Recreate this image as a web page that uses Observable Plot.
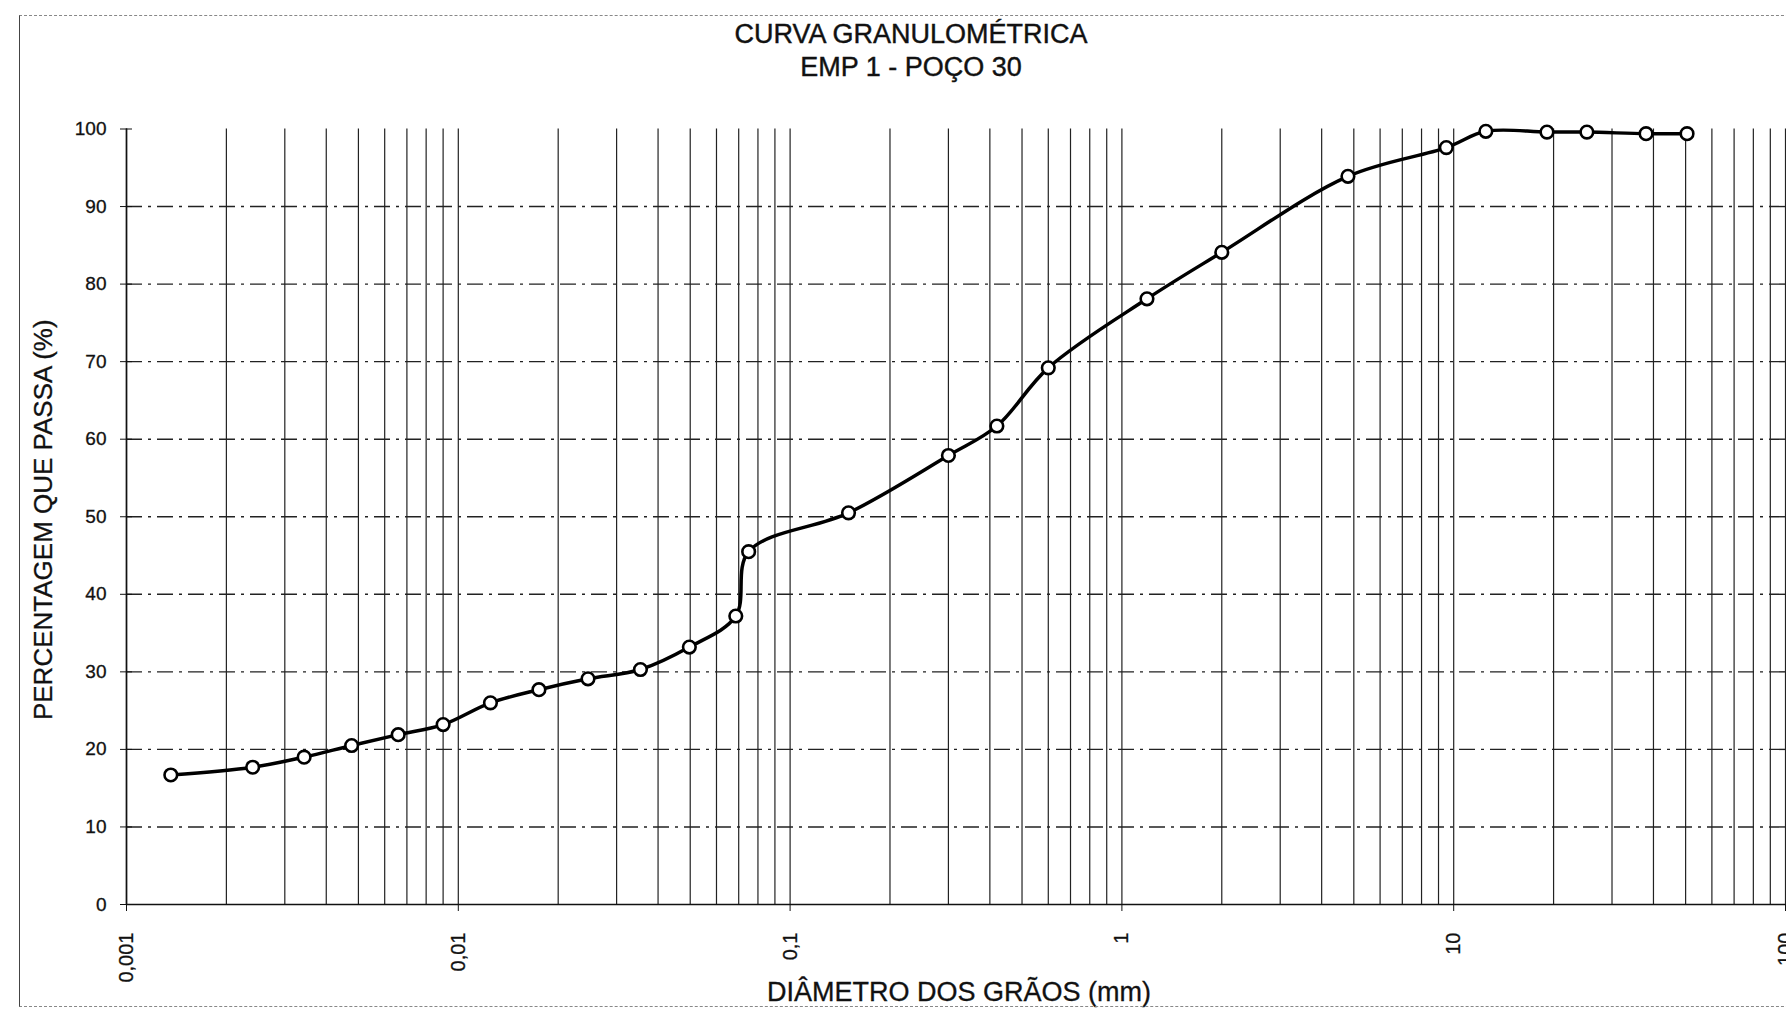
<!DOCTYPE html>
<html>
<head>
<meta charset="utf-8">
<script src="https://cdn.jsdelivr.net/npm/d3@7"></script>
<script src="https://cdn.jsdelivr.net/npm/@observablehq/plot@0.6"></script>
<style>
  body { margin: 0; background: #fff; font-family: "Liberation Sans", Arial, sans-serif; }
  #wrap { position: relative; width: 1786px; height: 1014px; overflow: hidden; background: #fff; }
  #title { height: 92px; box-sizing: border-box; padding-top: 18px; padding-left: 36px; text-align: center;
           font-size: 27px; line-height: 33px; color: #111; -webkit-text-stroke: 0.4px #111; }
  #frame { position: absolute; left: 19px; top: 15px; width: 1800px; height: 992px; box-sizing: border-box;
           border-left: 1px solid #444; border-top: 1px dashed #888; border-bottom: 1px dashed #888; pointer-events: none; }
  #chart svg { display: block; }
  #chart svg text { stroke: #111; stroke-width: 0.3px; }
</style>
</head>
<body>
<div id="wrap">
  <div id="frame"></div>
  <div id="title">
    <div>CURVA GRANULOMÉTRICA</div>
    <div>EMP 1 - POÇO 30</div>
  </div>
  <div id="chart"></div>
</div>
<script>
// Grain diameter (mm) and percentage passing
const diameters = [0.00136, 0.0024, 0.00343, 0.00477, 0.00659, 0.009, 0.0125, 0.0175, 0.0246, 0.0354,
                   0.0497, 0.0686, 0.075, 0.150, 0.30, 0.42, 0.60, 1.19, 2.0, 4.8, 9.5, 12.5, 19.1, 25.2, 38.0, 50.5];
const passing   = [16.7, 17.7, 19.0, 20.5, 21.9, 23.2, 26.0, 27.7, 29.1, 30.3,
                   33.2, 37.2, 45.5, 50.5, 57.9, 61.7, 69.2, 78.1, 84.1, 93.9, 97.6, 99.7, 99.6, 99.6, 99.4, 99.4];

const yTicks = [0, 10, 20, 30, 40, 50, 60, 70, 80, 90, 100];
const yGridValues = [10, 20, 30, 40, 50, 60, 70, 80, 90];
const xDecades = [0.001, 0.01, 0.1, 1, 10, 100];
const xTickLabels = ["0,001", "0,01", "0,1", "1", "10", "100"];
const minorMultipliers = [1, 2, 3, 4, 5, 6, 7, 8, 9];

const xGridValues = xDecades.slice(0, -1)
  .flatMap(d => minorMultipliers.map(k => +(k * d).toPrecision(6)))
  .concat([100]);

const data = diameters.map((d, i) => ({d, p: passing[i]}));

const chart = Plot.plot({
  width: 1786,
  height: 922,
  marginLeft: 126,
  marginRight: 1,
  marginTop: 36.5,
  marginBottom: 110,
  style: {fontFamily: "Liberation Sans, Arial, sans-serif", fontSize: "19px", color: "#111", background: "white", overflow: "visible"},
  x: {type: "log", domain: [0.001, 100]},
  y: {domain: [0, 100]},
  marks: [
    Plot.ruleX(xGridValues, {stroke: "#222", strokeWidth: 1.2}),
    Plot.ruleY(yGridValues, {stroke: "#222", strokeWidth: 1.4, strokeDasharray: "16,6,3,6"}),
    Plot.ruleY([0], {stroke: "#111", strokeWidth: 1.6}),
    Plot.ruleX([0.001], {stroke: "#111", strokeWidth: 1.6}),
    Plot.axisY({ticks: yTicks, tickSize: 6, tickPadding: 14, label: null, tickFormat: d => String(d)}),
    Plot.axisY({ticks: yTicks, tickSize: 6, dx: 6, text: null, label: null}),
    Plot.axisX({ticks: xDecades, tickFormat: d => xTickLabels[xDecades.indexOf(d)], tickRotate: -90,
                tickSize: 7, tickPadding: 21, label: null, fontSize: 20}),
    Plot.line(data, {x: "d", y: "p", curve: "catmull-rom", stroke: "#000", strokeWidth: 3.5}),
    Plot.dot(data, {x: "d", y: "p", r: 6.3, fill: "white", stroke: "#000", strokeWidth: 2.6}),
    Plot.text(["DIÂMETRO DOS GRÃOS (mm)"], {text: d => d, frameAnchor: "bottom", textAnchor: "middle", lineAnchor: "middle",
                                            dy: 88, dx: 3, fontSize: 27}),
    Plot.text(["PERCENTAGEM QUE PASSA (%)"], {text: d => d, frameAnchor: "left", textAnchor: "middle", lineAnchor: "middle",
                                              dx: -83, dy: 3, rotate: -90, fontSize: 26})
  ]
});
document.getElementById("chart").appendChild(chart);
</script>
</body>
</html>
